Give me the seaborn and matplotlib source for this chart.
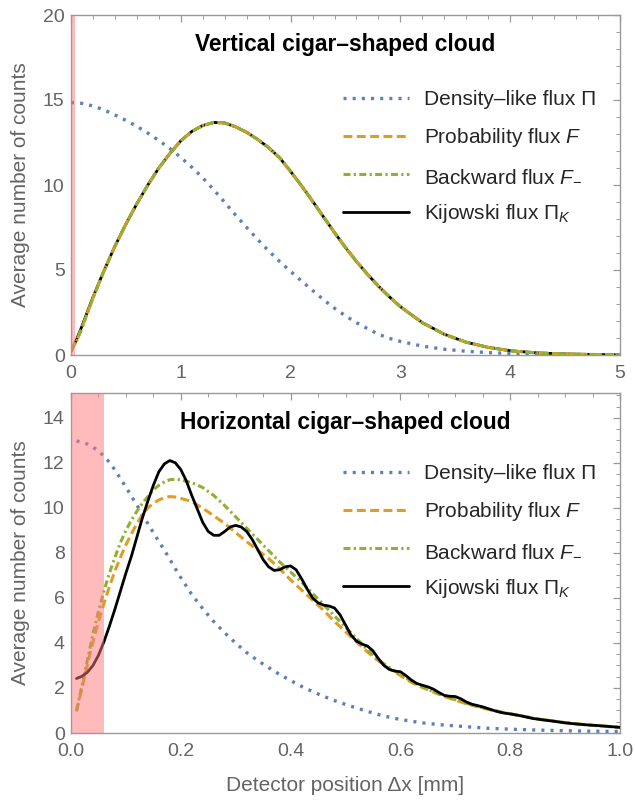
import matplotlib
matplotlib.use('Agg')
import matplotlib.pyplot as plt
from matplotlib.ticker import MultipleLocator
import seaborn as sns
import pandas as pd

# ---- data ----
# top panel: vertical cigar-shaped cloud
top_x = [0, 0.05, 0.1, 0.2, 0.3, 0.4, 0.5, 0.6, 0.7, 0.8, 0.9, 1.0,
         1.1, 1.2, 1.3, 1.4, 1.5, 1.6, 1.7, 1.8, 1.9, 2.0,
         2.1, 2.2, 2.3, 2.4, 2.5, 2.6, 2.7, 2.8, 2.9, 3.0,
         3.2, 3.4, 3.6, 3.8, 4.0, 4.25, 4.5, 4.75, 5.0]
top_density = [14.85, 14.84, 14.8, 14.65, 14.42, 14.12, 13.8, 13.45, 13.05, 12.62, 12.15, 11.62,
               11.05, 10.42, 9.72, 8.98, 8.22, 7.5, 6.8, 6.12, 5.5, 4.92,
               4.35, 3.8, 3.25, 2.75, 2.3, 1.9, 1.55, 1.22, 0.98, 0.8,
               0.52, 0.34, 0.22, 0.14, 0.09, 0.05, 0.03, 0.015, 0.01]
top_prob = [0.3, 0.8, 1.6, 3.35, 4.95, 6.4, 7.7, 8.9, 10.0, 11.0, 11.85, 12.6,
            13.15, 13.5, 13.68, 13.65, 13.42, 13.1, 12.68, 12.2, 11.6, 10.8,
            9.95, 9.05, 8.12, 7.2, 6.32, 5.5, 4.75, 4.05, 3.42, 2.84,
            1.9, 1.22, 0.75, 0.45, 0.25, 0.12, 0.06, 0.03, 0.01]
top_backward = [0.3, 0.8, 1.6, 3.35, 4.95, 6.4, 7.7, 8.9, 10.0, 11.0, 11.85, 12.6,
                13.15, 13.5, 13.68, 13.65, 13.42, 13.1, 12.68, 12.2, 11.6, 10.8,
                9.95, 9.05, 8.12, 7.2, 6.32, 5.5, 4.75, 4.05, 3.42, 2.84,
                1.9, 1.22, 0.75, 0.45, 0.25, 0.12, 0.06, 0.03, 0.01]
top_kijowski = [0.22, 0.9, 1.7, 3.4, 4.95, 6.4, 7.7, 8.9, 10.0, 11.0, 11.85, 12.6,
                13.15, 13.5, 13.68, 13.65, 13.42, 13.1, 12.68, 12.2, 11.6, 10.8,
                9.95, 9.05, 8.12, 7.2, 6.32, 5.5, 4.75, 4.05, 3.42, 2.84,
                1.9, 1.22, 0.75, 0.45, 0.25, 0.12, 0.06, 0.03, 0.01]

# bottom panel: horizontal cigar-shaped cloud
bot_x_flux = [0.01, 0.02, 0.03, 0.04, 0.05, 0.06, 0.07, 0.08, 0.09, 0.10,
              0.11, 0.12, 0.13, 0.14, 0.15, 0.16, 0.17, 0.18, 0.19, 0.20,
              0.22, 0.24, 0.26, 0.28, 0.30, 0.32, 0.34, 0.36, 0.38, 0.40,
              0.42, 0.44, 0.46, 0.48, 0.50, 0.52, 0.54, 0.56, 0.58, 0.60,
              0.62, 0.64, 0.66, 0.68, 0.70, 0.72, 0.74, 0.76, 0.78, 0.80,
              0.85, 0.90, 0.95, 1.00]
bot_prob = [0.95, 2.0, 3.05, 4.05, 4.95, 5.75, 6.5, 7.2, 7.8, 8.35,
            8.85, 9.3, 9.7, 10.0, 10.2, 10.35, 10.45, 10.5, 10.48, 10.42,
            10.28, 9.98, 9.65, 9.3, 8.9, 8.5, 8.12, 7.75, 7.3, 6.8,
            6.35, 5.9, 5.45, 4.95, 4.5, 4.05, 3.6, 3.2, 2.85, 2.55,
            2.25, 2.02, 1.82, 1.62, 1.46, 1.3, 1.17, 1.05, 0.95, 0.85,
            0.63, 0.46, 0.34, 0.25]
bot_backward = [1.0, 2.1, 3.25, 4.4, 5.4, 6.3, 7.1, 7.8, 8.45, 9.0,
                9.45, 9.85, 10.2, 10.5, 10.8, 11.0, 11.15, 11.25, 11.27, 11.24,
                11.12, 10.9, 10.55, 10.1, 9.6, 9.1, 8.6, 8.1, 7.6, 7.15,
                6.7, 6.2, 5.7, 5.2, 4.7, 4.2, 3.7, 3.25, 2.9, 2.6,
                2.3, 2.05, 1.83, 1.65, 1.48, 1.32, 1.18, 1.06, 0.95, 0.85,
                0.63, 0.46, 0.34, 0.25]
bot_x_density = [0.01, 0.02, 0.03, 0.04, 0.05, 0.06, 0.07, 0.08, 0.09, 0.10,
                 0.11, 0.12, 0.13, 0.14, 0.15, 0.16, 0.17, 0.18, 0.19, 0.20,
                 0.22, 0.24, 0.26, 0.28, 0.30, 0.32, 0.34, 0.36, 0.38, 0.40,
                 0.42, 0.44, 0.46, 0.48, 0.50, 0.52, 0.54, 0.56, 0.58, 0.60,
                 0.64, 0.68, 0.72, 0.76, 0.80, 0.85, 0.90, 0.95, 1.00]
bot_density = [12.97, 12.92, 12.83, 12.7, 12.52, 12.3, 12.02, 11.68, 11.3, 10.92,
               10.52, 10.12, 9.7, 9.3, 8.9, 8.5, 8.12, 7.72, 7.3, 6.9,
               6.15, 5.52, 4.95, 4.45, 3.99, 3.57, 3.22, 2.9, 2.6, 2.33,
               2.07, 1.84, 1.63, 1.44, 1.27, 1.11, 0.96, 0.82, 0.7, 0.6,
               0.45, 0.35, 0.28, 0.21, 0.17, 0.13, 0.1, 0.08, 0.07]
bot_x_kij = [0.01, 0.02, 0.03, 0.04, 0.05, 0.06, 0.07, 0.08, 0.09, 0.10,
             0.11, 0.12, 0.13, 0.14, 0.15, 0.16, 0.17, 0.18, 0.19, 0.20,
             0.21, 0.22, 0.23, 0.24, 0.25, 0.26, 0.27, 0.28, 0.29, 0.30,
             0.31, 0.32, 0.33, 0.34, 0.35, 0.36, 0.37, 0.38, 0.39, 0.40,
             0.41, 0.42, 0.43, 0.44, 0.45, 0.46, 0.47, 0.48, 0.49, 0.50,
             0.51, 0.52, 0.53, 0.54, 0.55, 0.56, 0.57, 0.58, 0.59, 0.60,
             0.61, 0.62, 0.63, 0.64, 0.65, 0.66, 0.67, 0.68, 0.69, 0.70,
             0.71, 0.72, 0.73, 0.74, 0.75, 0.76, 0.77, 0.78, 0.79, 0.80,
             0.82, 0.84, 0.86, 0.88, 0.90, 0.92, 0.94, 0.96, 0.98, 1.00]
bot_kijowski = [2.42, 2.52, 2.7, 3.0, 3.45, 4.05, 4.75, 5.5, 6.3, 7.1,
                7.85, 8.7, 9.55, 10.3, 11.0, 11.6, 11.95, 12.1, 12.0, 11.7,
                11.2, 10.55, 9.95, 9.35, 8.95, 8.78, 8.78, 8.95, 9.15, 9.22,
                9.15, 8.95, 8.6, 8.15, 7.7, 7.38, 7.22, 7.25, 7.38, 7.42,
                7.25, 6.85, 6.4, 6.0, 5.78, 5.68, 5.64, 5.55, 5.25, 4.8,
                4.35, 4.08, 3.95, 3.86, 3.65, 3.3, 3.0, 2.82, 2.75, 2.72,
                2.55, 2.35, 2.2, 2.12, 2.05, 1.95, 1.8, 1.67, 1.63, 1.62,
                1.52, 1.38, 1.28, 1.22, 1.16, 1.08, 1.0, 0.93, 0.88, 0.85,
                0.76, 0.65, 0.58, 0.52, 0.45, 0.40, 0.36, 0.33, 0.29, 0.25]

labels = ['Density\u2013like flux \u03a0', 'Probability flux $F$',
          'Backward flux $F_{-}$', r'Kijowski flux $\Pi_K$']
titles = ['Vertical cigar\u2013shaped cloud', 'Horizontal cigar\u2013shaped cloud']
top_band = 0.035
bot_band = 0.06

# ---- style ----
sns.set_theme(style='white')
plt.rcParams['font.family'] = ['Liberation Sans', 'DejaVu Sans']
plt.rcParams['mathtext.fontset'] = 'custom'
plt.rcParams['mathtext.rm'] = 'Liberation Sans'
plt.rcParams['mathtext.it'] = 'Liberation Sans:italic'
plt.rcParams['mathtext.bf'] = 'Liberation Sans:bold'
plt.rcParams['lines.scale_dashes'] = False

c_blue, c_orange, c_green, c_black = '#5E81B5', '#E19C24', '#8FB032', '#000000'
ls_blue = (0, (2.2, 4.4))
ls_orange = (0, (6.4, 3.2))
ls_green = (0, (5.0, 2.4, 1.6, 2.4))
grey = '#999999'
txt_grey = '#646464'

fig = plt.figure(figsize=(6.35, 8), dpi=100)
ax1 = fig.add_axes([0.1118, 0.55625, 0.8646, 0.425])
ax2 = fig.add_axes([0.1118, 0.08375, 0.8646, 0.425])


def draw(ax, xs, ys, color, ls, lw, label, z):
    df = pd.DataFrame({'x': xs, 'y': ys})
    sns.lineplot(data=df, x='x', y='y', ax=ax, color=color, linestyle=ls,
                 linewidth=lw, label=label, zorder=z, sort=False)


# top panel: green on top, black underneath
draw(ax1, top_x, top_density, c_blue, ls_blue, 2.4, labels[0], 3)
draw(ax1, top_x, top_prob, c_orange, ls_orange, 2.2, labels[1], 4)
draw(ax1, top_x, top_backward, c_green, ls_green, 2.2, labels[2], 5)
draw(ax1, top_x, top_kijowski, c_black, '-', 2.0, labels[3], 2)

draw(ax2, bot_x_density, bot_density, c_blue, ls_blue, 2.4, labels[0], 3)
draw(ax2, bot_x_flux, bot_prob, c_orange, ls_orange, 2.2, labels[1], 4)
draw(ax2, bot_x_flux, bot_backward, c_green, ls_green, 2.2, labels[2], 5)
draw(ax2, bot_x_kij, bot_kijowski, c_black, '-', 2.0, labels[3], 6)

ax1.axvspan(0, top_band, color='#FF7878', alpha=0.5, lw=0, zorder=10)
ax2.axvspan(0, bot_band, color='#FF7878', alpha=0.5, lw=0, zorder=10)

ax1.set_xlim(0, 5)
ax1.set_ylim(0, 20)
ax1.xaxis.set_major_locator(MultipleLocator(1))
ax1.xaxis.set_minor_locator(MultipleLocator(0.2))
ax1.yaxis.set_major_locator(MultipleLocator(5))
ax1.yaxis.set_minor_locator(MultipleLocator(1))

ax2.set_xlim(0, 1)
ax2.set_ylim(0, 15.1)
ax2.xaxis.set_major_locator(MultipleLocator(0.2))
ax2.xaxis.set_minor_locator(MultipleLocator(0.05))
ax2.yaxis.set_major_locator(MultipleLocator(2))
ax2.yaxis.set_minor_locator(MultipleLocator(0.5))

legend_anchor = [(0.495, 0.78), (0.495, 0.79)]
for ax, title, anchor in zip([ax1, ax2], titles, legend_anchor):
    for sp in ax.spines.values():
        sp.set_color(grey)
        sp.set_linewidth(1.0)
    ax.tick_params(which='both', direction='in', top=True, right=True,
                   color=grey, labelcolor=txt_grey, labelsize=14)
    ax.tick_params(axis='x', which='both', pad=7.5)
    ax.tick_params(axis='y', which='both', pad=4.5)
    ax.tick_params(which='major', length=5, width=0.9)
    ax.tick_params(which='minor', length=2.8, width=0.7)
    ax.set_ylabel('Average number of counts', fontsize=15, color=txt_grey, labelpad=9)
    ax.set_xlabel('')
    ax.text(0.5, 0.912, title, transform=ax.transAxes, ha='center', va='center',
            fontsize=16.4, fontweight='bold', color='black')
    ax.legend(loc='upper left', bbox_to_anchor=anchor, frameon=False,
              fontsize=15, handlelength=3.2, handletextpad=0.7,
              labelspacing=0.82, borderpad=0, borderaxespad=0)

ax2.set_xlabel('Detector position \u0394x [mm]', fontsize=15, color=txt_grey, labelpad=11)

fig.savefig('out.png', dpi=100)
